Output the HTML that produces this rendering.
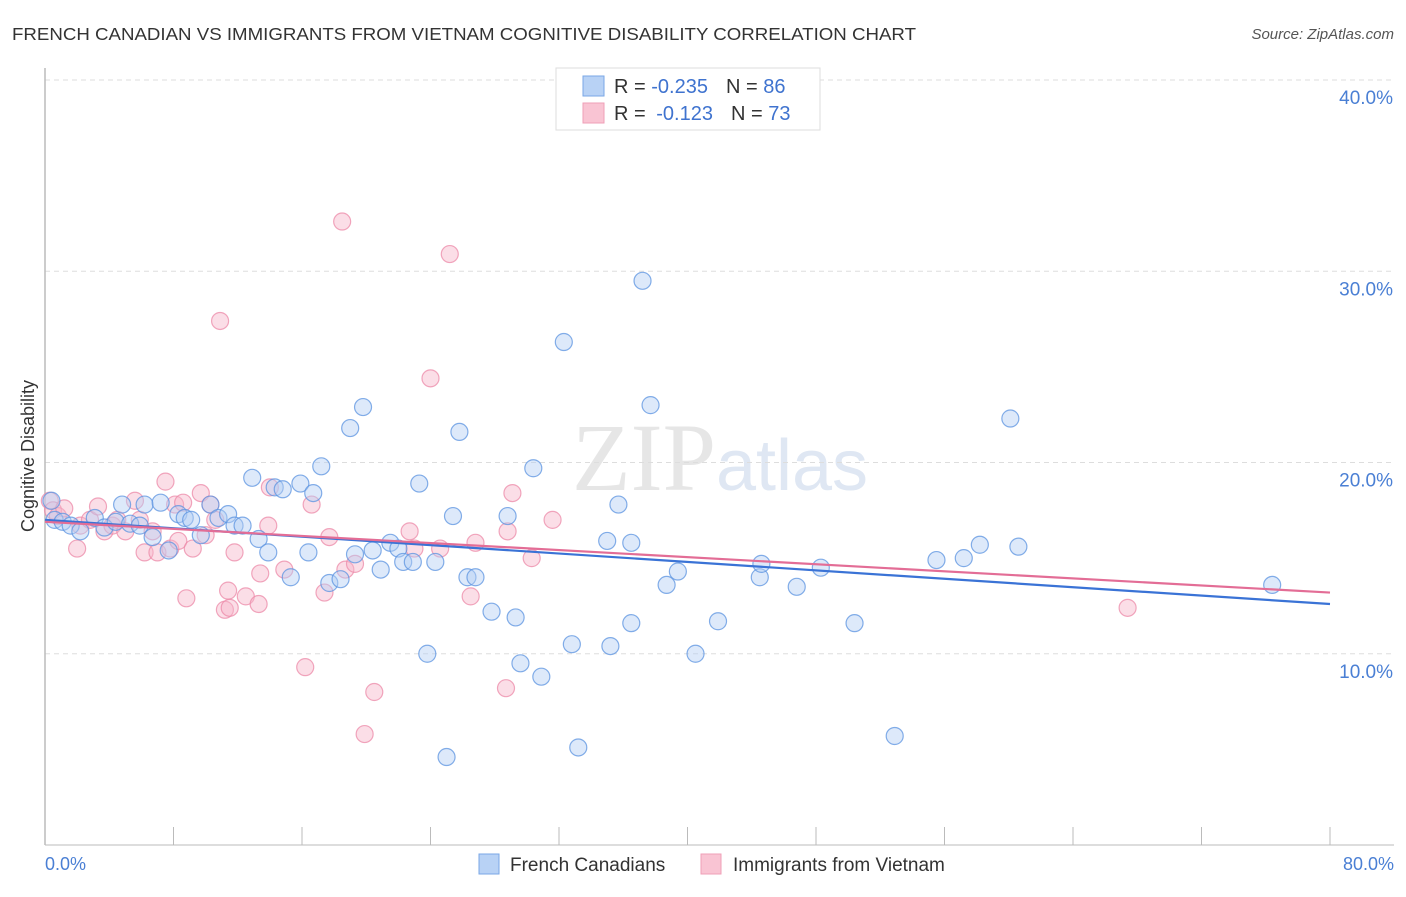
<!DOCTYPE html>
<html><head><meta charset="utf-8">
<style>
body{margin:0;background:#fff;font-family:"Liberation Sans",sans-serif;}
svg text{font-family:"Liberation Sans",sans-serif;}
</style></head>
<body>
<svg id="chart" width="1406" height="892" viewBox="0 0 1406 892" xmlns="http://www.w3.org/2000/svg">
<text x="12" y="40" font-size="17.5" fill="#333" textLength="904" lengthAdjust="spacingAndGlyphs">FRENCH CANADIAN VS IMMIGRANTS FROM VIETNAM COGNITIVE DISABILITY CORRELATION CHART</text>
<text x="1394" y="39" font-size="15" fill="#555" text-anchor="end" font-style="italic">Source: ZipAtlas.com</text>
<text x="720" y="490" font-size="96" text-anchor="middle" fill="#e6e6e6" font-family="Liberation Serif"><tspan font-family="Liberation Serif">ZIP</tspan><tspan fill="#dfe7f3" font-family="Liberation Sans" font-size="72">atlas</tspan></text>
<g id="grid"></g>
<line x1="45" y1="68" x2="45" y2="845" stroke="#bbb" stroke-width="1.5"/>
<line x1="45" y1="845" x2="1394" y2="845" stroke="#bbb" stroke-width="1"/>
<text transform="translate(34,456) rotate(-90)" font-size="18" fill="#333" text-anchor="middle">Cognitive Disability</text>
<text x="45" y="870" font-size="18" fill="#4a7fd4">0.0%</text>
<text x="1394" y="870" font-size="18" fill="#4a7fd4" text-anchor="end">80.0%</text>
<g id="pts"></g>
<g id="lines"></g>
<g>
<rect x="556" y="68" width="264" height="62" fill="#fff" stroke="#ddd"/>
<rect x="583" y="76" width="21" height="20" fill="#b8d2f5" stroke="#7aa7e6"/>
<rect x="583" y="103" width="21" height="20" fill="#f9c4d3" stroke="#ef9fb7"/>
<text x="614" y="93" font-size="20" fill="#333">R = <tspan fill="#3f73cf">-0.235</tspan><tspan dx="18">N = </tspan><tspan fill="#3f73cf">86</tspan></text>
<text x="614" y="120" font-size="20" fill="#333">R = <tspan fill="#3f73cf" dx="5">-0.123</tspan><tspan dx="18">N = </tspan><tspan fill="#3f73cf">73</tspan></text>
</g>
<g>
<rect x="479" y="854" width="20" height="20" fill="#b8d2f5" stroke="#7aa7e6"/>
<text x="510" y="871" font-size="19" fill="#333">French Canadians</text>
</g>
<g>
<rect x="701" y="854" width="20" height="20" fill="#f9c4d3" stroke="#ef9fb7"/>
<text x="733" y="871" font-size="19" fill="#333">Immigrants from Vietnam</text>
</g>
</svg>
<script>
const yTicks=[10,20,30,40];
const yTickLabels=["10.0%","20.0%","30.0%","40.0%"];
const xTicks=[0,8,16,24,32,40,48,56,64,72,80];
const blueX=[0.4,0.6,1.1,1.6,2.2,3.1,3.7,4.4,4.8,5.3,5.9,6.2,6.7,7.2,7.7,8.3,8.7,9.1,9.7,10.3,10.8,11.4,11.8,12.3,12.9,13.3,13.9,14.3,14.8,15.3,15.9,16.4,16.7,17.2,17.7,18.4,19.0,19.3,19.8,20.4,20.9,21.5,22.0,22.3,22.9,23.3,23.8,24.3,25.0,25.4,25.8,26.3,26.8,27.8,28.8,29.3,29.6,30.4,30.9,32.3,32.8,33.2,35.0,35.2,35.7,36.5,36.5,37.2,37.7,38.7,39.4,40.5,41.9,44.5,44.6,46.8,48.3,50.4,52.9,55.5,57.2,58.2,60.1,60.6,76.4];
const blueY=[18.0,17.0,16.9,16.7,16.4,17.1,16.6,16.9,17.8,16.8,16.7,17.8,16.1,17.9,15.4,17.3,17.1,17.0,16.2,17.8,17.1,17.3,16.7,16.7,19.2,16.0,15.3,18.7,18.6,14.0,18.9,15.3,18.4,19.8,13.7,13.9,21.8,15.2,22.9,15.4,14.4,15.8,15.5,14.8,14.8,18.9,10.0,14.8,4.6,17.2,21.6,14.0,14.0,12.2,17.2,11.9,9.5,19.7,8.8,26.3,10.5,5.1,15.9,10.4,17.8,11.6,15.8,29.5,23.0,13.6,14.3,10.0,11.7,14.0,14.7,13.5,14.5,11.6,5.7,14.9,15.0,15.7,22.3,15.6,13.6];
const pinkX=[0.3,0.5,0.8,1.2,2.0,2.2,2.8,3.3,3.7,4.2,4.5,5.0,5.6,5.9,6.2,6.7,7.0,7.5,7.8,8.1,8.3,8.6,8.8,9.2,9.7,10.0,10.3,10.6,10.9,11.2,11.4,11.5,11.8,12.5,13.3,13.4,13.9,14.0,14.9,16.2,16.6,17.4,17.7,18.5,18.7,19.3,20.5,19.9,22.7,23.0,24.0,24.6,25.2,26.5,26.8,28.7,28.8,29.1,30.3,31.6,67.4];
const pinkY=[18.0,17.5,17.2,17.6,15.5,16.7,17.0,17.7,16.4,16.7,17.0,16.4,18.0,17.0,15.3,16.4,15.3,19.0,15.5,17.8,15.9,17.9,12.9,15.5,18.4,16.2,17.8,17.0,27.4,12.3,13.3,12.4,15.3,13.0,12.6,14.2,16.7,18.7,14.4,9.3,17.8,13.2,16.1,32.6,14.4,14.7,8.0,5.8,16.4,15.5,24.4,15.5,30.9,13.0,15.8,8.2,16.4,18.4,15.0,17.0,12.4];
const blueTrend=[17.0,12.6];
const pinkTrend=[16.9,13.2];
function sx(v){return 45+v*(1330-45)/80;}
function sy(v){return 845-v*(845-80)/40;}
const NS="http://www.w3.org/2000/svg";
const grid=document.getElementById('grid');
yTicks.forEach((t,i)=>{
 const l=document.createElementNS(NS,'line');
 
 
 l.setAttribute('x1',45);l.setAttribute('x2',1394);l.setAttribute('y1',sy(t));l.setAttribute('y2',sy(t));
 l.setAttribute('stroke','#ddd');l.setAttribute('stroke-dasharray','5,4');
 grid.appendChild(l);
 const tx=document.createElementNS(NS,'text');
 
 
 tx.setAttribute('x',1393);tx.setAttribute('y',sy(t)+24);tx.setAttribute('text-anchor','end');
 tx.setAttribute('font-size','19');tx.setAttribute('fill','#4a7fd4');tx.textContent=yTickLabels[i];
 grid.appendChild(tx);
});
xTicks.forEach(t=>{
 const l=document.createElementNS(NS,'line');
 
 
 l.setAttribute('x1',sx(t));l.setAttribute('x2',sx(t));l.setAttribute('y1',827);l.setAttribute('y2',845);
 l.setAttribute('stroke','#bbb');
 grid.appendChild(l);
});
const pts=document.getElementById('pts');
function dots(X,Y,fill,stroke,name){
 X.forEach((x,i)=>{
  const c=document.createElementNS(NS,'circle');
  
  
  c.setAttribute('cx',sx(x));c.setAttribute('cy',sy(Y[i]));c.setAttribute('r',8.5);
  c.setAttribute('fill',fill);c.setAttribute('fill-opacity','0.45');
  c.setAttribute('stroke',stroke);c.setAttribute('stroke-opacity','0.75');c.setAttribute('stroke-width','1.2');
  pts.appendChild(c);
 });
}
dots(pinkX,pinkY,'#f7b6c9','#ec8aa8','vietnam-point');
dots(blueX,blueY,'#b3cff3','#5b93e0','french-canadian-point');
const lines=document.getElementById('lines');
function trend(T,color,name){
 const l=document.createElementNS(NS,'line');
 
 
 l.setAttribute('x1',sx(0));l.setAttribute('y1',sy(T[0]));l.setAttribute('x2',sx(80));l.setAttribute('y2',sy(T[1]));
 l.setAttribute('stroke',color);l.setAttribute('stroke-width','2.2');
 lines.appendChild(l);
}
trend(blueTrend,'#3a73d6','french-canadian-trendline');
trend(pinkTrend,'#e36d96','vietnam-trendline');
</script>
</body></html>
